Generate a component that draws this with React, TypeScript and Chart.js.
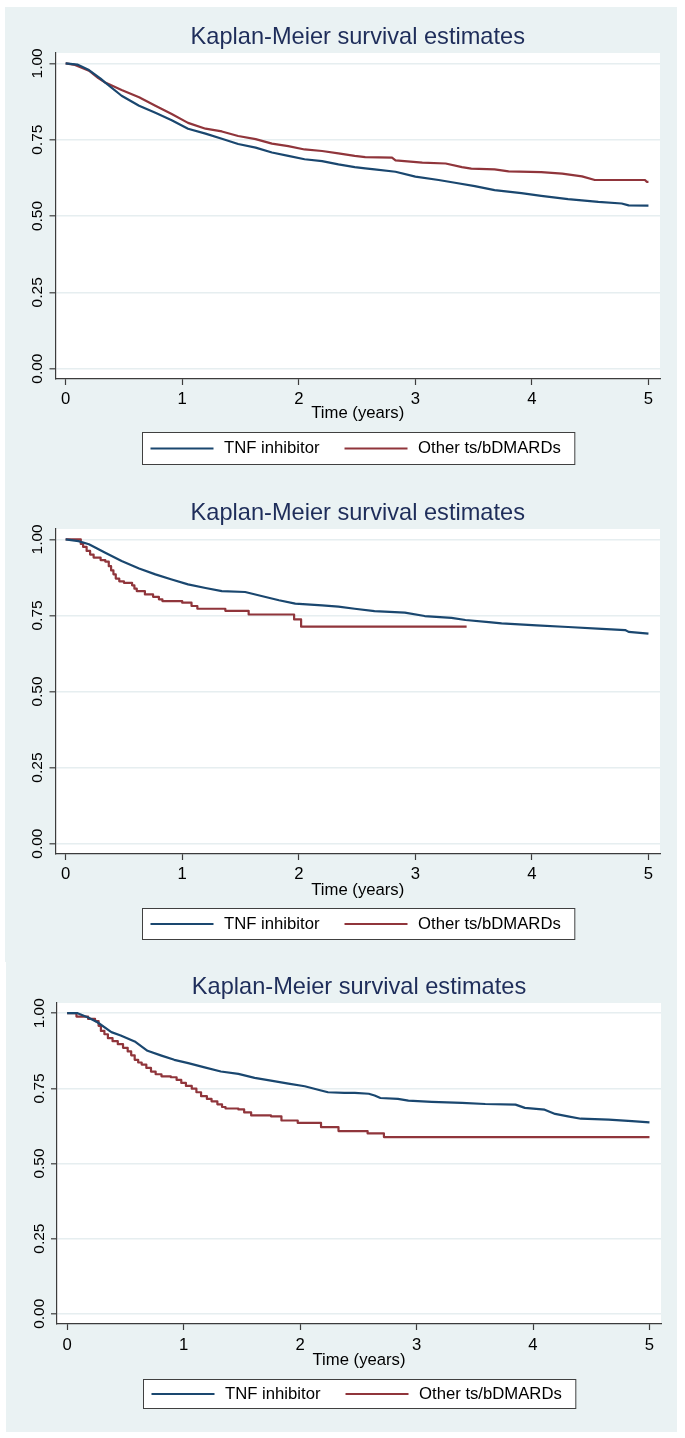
import React, { useEffect, useRef } from "react";
import { Chart, registerables } from "chart.js";

Chart.register(...registerables);

// ---------- text ----------
const titleText = "Kaplan-Meier survival estimates";
const xAxisTitle = "Time (years)";
const seriesLabels = ["TNF inhibitor", "Other ts/bDMARDs"];

// ---------- ticks ----------
const xTickValues = [0, 1, 2, 3, 4, 5];
const yTickValues = [0, 0.25, 0.5, 0.75, 1];
const yTickLabels = ["0.00", "0.25", "0.50", "0.75", "1.00"];

// ---------- panel 1 data ----------
const p1TnfTime = [0, 0.1, 0.2, 0.3, 0.34, 0.48, 0.63, 0.77, 0.91, 1.05, 1.2, 1.34, 1.48, 1.63, 1.77, 1.91, 2.05, 2.2, 2.34, 2.48, 2.57, 2.65, 2.83, 3.0, 3.2, 3.34, 3.51, 3.68, 3.91, 4.08, 4.31, 4.57, 4.77, 4.83, 5.0];
const p1TnfSurv = [1.0, 0.996, 0.978, 0.95, 0.937, 0.894, 0.861, 0.838, 0.814, 0.786, 0.77, 0.753, 0.736, 0.724, 0.708, 0.697, 0.686, 0.68, 0.669, 0.66, 0.656, 0.653, 0.645, 0.629, 0.618, 0.609, 0.598, 0.585, 0.575, 0.566, 0.555, 0.546, 0.541, 0.535, 0.534];
const p1OtherTime = [0, 0.08, 0.2, 0.28, 0.34, 0.48, 0.63, 0.77, 0.91, 1.05, 1.2, 1.34, 1.48, 1.63, 1.77, 1.91, 2.05, 2.2, 2.34, 2.48, 2.57, 2.8, 2.83, 3.06, 3.26, 3.4, 3.48, 3.68, 3.8, 4.08, 4.26, 4.43, 4.54, 4.97, 4.985, 5.0];
const p1OtherSurv = [1.0, 0.995, 0.976, 0.952, 0.937, 0.913, 0.889, 0.861, 0.834, 0.805, 0.786, 0.777, 0.762, 0.752, 0.737, 0.729, 0.718, 0.713, 0.705, 0.697, 0.693, 0.691, 0.682, 0.675, 0.672, 0.66, 0.655, 0.653, 0.646, 0.644, 0.639, 0.63, 0.618, 0.618, 0.612, 0.612];

// ---------- panel 2 data ----------
const p2TnfTime = [0, 0.11, 0.2, 0.34, 0.48, 0.63, 0.77, 0.91, 1.05, 1.2, 1.34, 1.54, 1.68, 1.83, 1.97, 2.2, 2.34, 2.48, 2.65, 2.91, 3.08, 3.31, 3.43, 3.63, 3.74, 4.04, 4.31, 4.6, 4.8, 4.83, 5.0];
const p2TnfSurv = [1.0, 0.994, 0.984, 0.956, 0.929, 0.904, 0.885, 0.868, 0.852, 0.84, 0.83, 0.827, 0.814, 0.8, 0.789, 0.783, 0.779, 0.772, 0.764, 0.759, 0.748, 0.742, 0.735, 0.728, 0.724, 0.717, 0.712, 0.706, 0.702, 0.696, 0.69];
const p2OtherTime = [0, 0.13, 0.15, 0.18, 0.21, 0.24, 0.3, 0.34, 0.37, 0.39, 0.41, 0.43, 0.46, 0.5, 0.57, 0.59, 0.61, 0.68, 0.75, 0.8, 0.83, 1.0, 1.08, 1.13, 1.37, 1.57, 1.96, 2.02, 3.44];
const p2OtherSurv = [1.0, 0.985, 0.975, 0.962, 0.95, 0.94, 0.932, 0.927, 0.912, 0.898, 0.885, 0.871, 0.862, 0.857, 0.849, 0.838, 0.83, 0.819, 0.811, 0.803, 0.797, 0.792, 0.781, 0.772, 0.765, 0.753, 0.737, 0.713, 0.713];

// ---------- panel 3 data ----------
const p3TnfTime = [0, 0.09, 0.18, 0.26, 0.38, 0.46, 0.58, 0.69, 0.81, 0.92, 1.04, 1.18, 1.32, 1.47, 1.61, 1.75, 1.9, 2.04, 2.18, 2.24, 2.38, 2.47, 2.59, 2.64, 2.69, 2.84, 2.93, 3.13, 3.39, 3.59, 3.85, 3.93, 4.1, 4.19, 4.3, 4.41, 4.65, 4.85, 5.0];
const p3TnfSurv = [1.0, 1.0, 0.986, 0.97, 0.937, 0.926, 0.906, 0.875, 0.859, 0.845, 0.834, 0.82, 0.806, 0.798, 0.785, 0.776, 0.766, 0.757, 0.743, 0.737, 0.735, 0.735, 0.732, 0.726, 0.718, 0.715, 0.709, 0.705, 0.702, 0.698, 0.696, 0.685, 0.679, 0.665, 0.657, 0.649, 0.646, 0.641, 0.637];
const p3OtherTime = [0, 0.08, 0.18, 0.24, 0.27, 0.29, 0.32, 0.35, 0.39, 0.435, 0.48, 0.52, 0.55, 0.58, 0.61, 0.64, 0.68, 0.72, 0.76, 0.81, 0.89, 0.94, 0.98, 1.02, 1.07, 1.11, 1.15, 1.2, 1.24, 1.29, 1.33, 1.36, 1.47, 1.52, 1.58, 1.75, 1.84, 1.98, 2.18, 2.33, 2.58, 2.72, 5.0];
const p3OtherSurv = [1.0, 0.989, 0.981, 0.974, 0.958, 0.941, 0.93, 0.917, 0.907, 0.897, 0.885, 0.873, 0.86, 0.845, 0.836, 0.829, 0.818, 0.806, 0.797, 0.79, 0.787, 0.778, 0.768, 0.758, 0.749, 0.737, 0.724, 0.715, 0.707, 0.697, 0.688, 0.683, 0.68, 0.67, 0.66, 0.657, 0.643, 0.635, 0.621, 0.608, 0.6, 0.588, 0.588];

// ---------- styles ----------
const FONT = '"Liberation Sans", Arial, Helvetica, sans-serif';
const BG = "#EAF2F3";
const GRID = "#E6EEF0";
const AXIS = "#3c3c3c";
const TITLE_COLOR = "#1E2D5A";
const TNF_COLOR = "#1A476F";
const OTHER_COLOR = "#90353B";
const X_MIN = -0.087;
const X_MAX = 5.099;
const Y_MIN = -0.034;
const Y_MAX = 1.034;

type PanelCfg = {
  left: number; top: number; width: number; height: number;
  titleCenter: number; plotLeft: number; plotRight: number; plotTop: number; plotBottom: number;
  tickOffset: number; xTitleOffset: number; legendTop: number; legendHeight: number;
  tnfT: number[]; tnfS: number[]; otherT: number[]; otherS: number[];
  tnfStepped: boolean; otherStepped: boolean;
};

const panels: PanelCfg[] = [
  {
    left: 5, top: 7, width: 672, height: 473,
    titleCenter: 30.5, plotLeft: 50.5, plotRight: 655, plotTop: 46, plotBottom: 372,
    tickOffset: 20, xTitleOffset: 34, legendTop: 425, legendHeight: 32,
    tnfT: p1TnfTime, tnfS: p1TnfSurv, otherT: p1OtherTime, otherS: p1OtherSurv,
    tnfStepped: false, otherStepped: false,
  },
  {
    left: 5, top: 480, width: 672, height: 482,
    titleCenter: 33.8, plotLeft: 50.5, plotRight: 655, plotTop: 49, plotBottom: 374,
    tickOffset: 20, xTitleOffset: 36, legendTop: 428, legendHeight: 31,
    tnfT: p2TnfTime, tnfS: p2TnfSurv, otherT: p2OtherTime, otherS: p2OtherSurv,
    tnfStepped: false, otherStepped: true,
  },
  {
    left: 6, top: 962, width: 671, height: 470,
    titleCenter: 25.2, plotLeft: 51, plotRight: 655, plotTop: 41, plotBottom: 362,
    tickOffset: 21, xTitleOffset: 36, legendTop: 417, legendHeight: 29,
    tnfT: p3TnfTime, tnfS: p3TnfSurv, otherT: p3OtherTime, otherS: p3OtherSurv,
    tnfStepped: false, otherStepped: true,
  },
];

const toPoints = (t: number[], s: number[]) => t.map((x, i) => ({ x, y: s[i] }));

function KMPanel({ cfg }: { cfg: PanelCfg }) {
  const ref = useRef<HTMLCanvasElement>(null);

  useEffect(() => {
    const canvas = ref.current;
    if (!canvas) return;

    const TITLE_SIZE = 23.6;
    const TITLE_LH = TITLE_SIZE * 1.2;
    const LABEL_SIZE = 16.7;
    const LABEL_LH = LABEL_SIZE * 1.2;
    const X_SCALE_H = 60;
    const TICK_LEN = 6;

    const bgPlugin = {
      id: "panelBackground",
      beforeDraw(chart: any) {
        const { ctx, chartArea: a, width, height } = chart;
        ctx.save();
        ctx.fillStyle = BG;
        ctx.fillRect(0, 0, width, height);
        ctx.fillStyle = "#ffffff";
        ctx.fillRect(a.left, a.top, a.right - a.left, a.bottom - a.top);
        ctx.restore();
      },
    };

    const legendPlugin = {
      id: "boxedLegend",
      afterDraw(chart: any) {
        const { ctx, chartArea: a } = chart;
        const colors = [TNF_COLOR, OTHER_COLOR];
        const padL = 8, lineLen = 63, gap = 10.5, itemGap = 25, padR = 14;
        ctx.save();
        ctx.font = `${LABEL_SIZE}px ${FONT}`;
        const widths = seriesLabels.map((l) => ctx.measureText(l).width);
        let total = padL + padR + itemGap * (seriesLabels.length - 1);
        widths.forEach((w) => (total += lineLen + gap + w));
        const cx = (a.left + a.right) / 2;
        const x0 = Math.round(cx - total / 2) + 0.5;
        const top = cfg.legendTop + 0.5;
        const h = cfg.legendHeight;
        ctx.fillStyle = "#ffffff";
        ctx.fillRect(x0, top, total, h);
        ctx.strokeStyle = "#404040";
        ctx.lineWidth = 1;
        ctx.strokeRect(x0, top, total, h);
        const cy = top + h / 2;
        let cur = x0 + padL;
        seriesLabels.forEach((label, i) => {
          ctx.strokeStyle = colors[i];
          ctx.lineWidth = 2;
          ctx.beginPath();
          ctx.moveTo(cur, cy);
          ctx.lineTo(cur + lineLen, cy);
          ctx.stroke();
          cur += lineLen + gap;
          ctx.fillStyle = "#000000";
          ctx.textAlign = "left";
          ctx.textBaseline = "middle";
          ctx.fillText(label, cur, cy);
          cur += widths[i] + itemGap;
        });
        ctx.restore();
      },
    };

    const chart = new Chart(canvas, {
      type: "line",
      data: {
        datasets: [
          {
            label: seriesLabels[0],
            data: toPoints(cfg.tnfT, cfg.tnfS),
            borderColor: TNF_COLOR,
            backgroundColor: TNF_COLOR,
            borderWidth: 2.2,
            pointRadius: 0,
            tension: 0,
            stepped: cfg.tnfStepped,
            borderJoinStyle: "round",
          },
          {
            label: seriesLabels[1],
            data: toPoints(cfg.otherT, cfg.otherS),
            borderColor: OTHER_COLOR,
            backgroundColor: OTHER_COLOR,
            borderWidth: 2.2,
            pointRadius: 0,
            tension: 0,
            stepped: cfg.otherStepped,
            borderJoinStyle: "round",
          },
        ],
      },
      options: {
        responsive: false,
        animation: false,
        devicePixelRatio: 1,
        events: [],
        layout: {
          padding: {
            left: 0,
            top: 0,
            right: cfg.width - cfg.plotRight,
            bottom: cfg.height - cfg.plotBottom - X_SCALE_H,
          },
        },
        plugins: {
          legend: { display: false },
          tooltip: { enabled: false },
          title: {
            display: true,
            text: titleText,
            fullSize: false,
            color: TITLE_COLOR,
            font: { family: FONT, size: TITLE_SIZE, weight: "normal", lineHeight: 1.2 },
            padding: {
              top: cfg.titleCenter - TITLE_LH / 2,
              bottom: cfg.plotTop - cfg.titleCenter - TITLE_LH / 2,
            },
          },
        },
        scales: {
          x: {
            type: "linear",
            min: X_MIN,
            max: X_MAX,
            afterBuildTicks: (scale: any) => {
              scale.ticks = xTickValues.map((v) => ({ value: v }));
            },
            afterFit: (scale: any) => {
              scale.height = X_SCALE_H;
            },
            grid: {
              display: true,
              drawOnChartArea: false,
              drawTicks: true,
              tickLength: TICK_LEN,
              tickColor: AXIS,
              tickWidth: 1.2,
            },
            border: { display: true, color: AXIS, width: 1.2 },
            ticks: {
              autoSkip: false,
              maxRotation: 0,
              minRotation: 0,
              padding: cfg.tickOffset - TICK_LEN - LABEL_LH / 2,
              color: "#000000",
              font: { family: FONT, size: LABEL_SIZE, lineHeight: 1.2 },
              callback: (v: any) => String(v),
            },
            title: {
              display: true,
              text: xAxisTitle,
              color: "#000000",
              font: { family: FONT, size: LABEL_SIZE, lineHeight: 1.2 },
              padding: { top: 0, bottom: X_SCALE_H - cfg.xTitleOffset - LABEL_LH / 2 },
            },
          },
          y: {
            type: "linear",
            position: "left",
            min: Y_MIN,
            max: Y_MAX,
            afterBuildTicks: (scale: any) => {
              scale.ticks = yTickValues.map((v) => ({ value: v }));
            },
            afterFit: (scale: any) => {
              scale.width = cfg.plotLeft;
            },
            grid: {
              display: true,
              drawOnChartArea: true,
              color: GRID,
              lineWidth: 1.6,
              drawTicks: true,
              tickLength: TICK_LEN,
              tickColor: AXIS,
              tickWidth: 1.2,
            },
            border: { display: true, color: AXIS, width: 1.2 },
            ticks: {
              autoSkip: false,
              minRotation: 90,
              maxRotation: 90,
              crossAlign: "center",
              padding: -3.6,
              color: "#000000",
              font: { family: FONT, size: 15.5, lineHeight: 1.2 },
              callback: (v: any) => {
                const idx = yTickValues.indexOf(Number(v));
                return idx >= 0 ? yTickLabels[idx] : "";
              },
            },
          },
        },
      } as any,
      plugins: [bgPlugin, legendPlugin],
    });

    return () => chart.destroy();
  }, [cfg]);

  return (
    <canvas
      ref={ref}
      width={cfg.width}
      height={cfg.height}
      style={{ position: "absolute", left: cfg.left, top: cfg.top, width: cfg.width, height: cfg.height }}
    />
  );
}

export default function App() {
  return (
    <div
      style={{
        position: "absolute",
        left: 0,
        top: 0,
        width: 685,
        height: 1438,
        background: "#ffffff",
        overflow: "hidden",
      }}
    >
      {panels.map((p, i) => (
        <KMPanel key={i} cfg={p} />
      ))}
    </div>
  );
}
